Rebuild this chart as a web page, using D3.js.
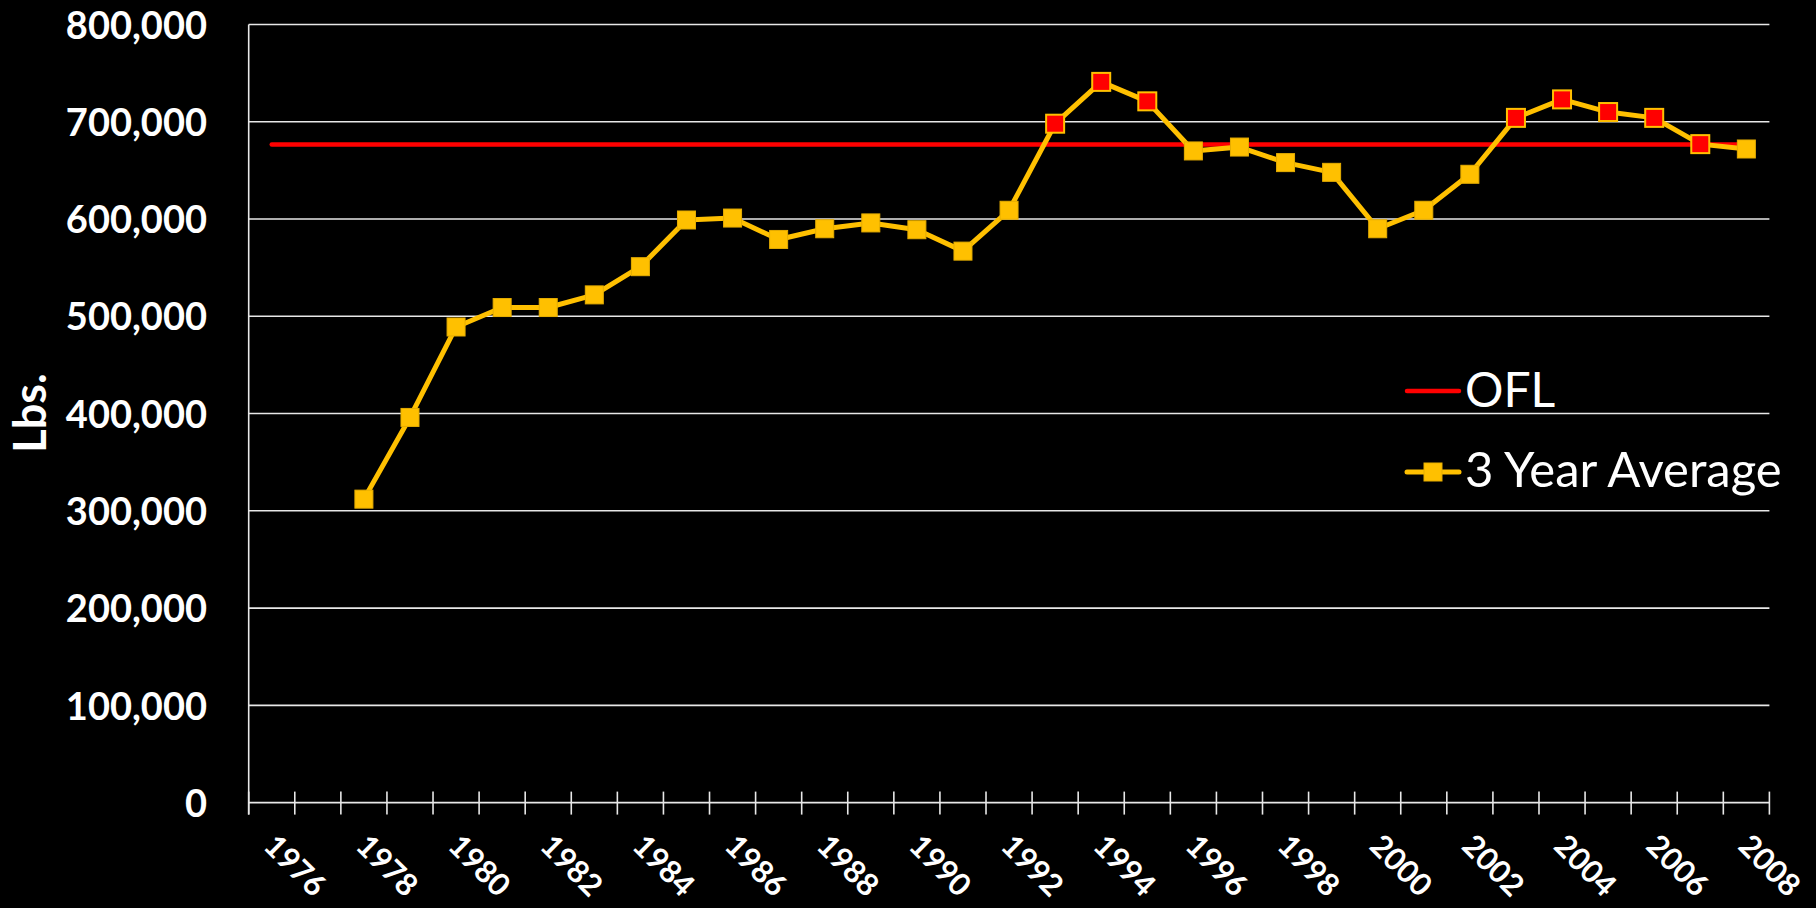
<!DOCTYPE html>
<html lang="en">
  <head>
    <meta charset="utf-8">
    <title>OFL vs 3 Year Average</title>
    <script type="text/javascript" src="https://cdn.jsdelivr.net/npm/d3@7"></script>
    <style>
      body {
        margin: 0;
        background: #000;
      }
      svg {
        display: block;
        font-family: Lato, sans-serif;
      }
    </style>
  </head>
  <body>
    <script type="text/javascript">

      // categories on the x axis
      var years = [1976, 1977, 1978, 1979, 1980, 1981, 1982, 1983, 1984, 1985, 1986,
                   1987, 1988, 1989, 1990, 1991, 1992, 1993, 1994, 1995, 1996, 1997,
                   1998, 1999, 2000, 2001, 2002, 2003, 2004, 2005, 2006, 2007, 2008];

      // labelled years (every other one)
      var labelYears = [1976, 1978, 1980, 1982, 1984, 1986, 1988, 1990, 1992,
                        1994, 1996, 1998, 2000, 2002, 2004, 2006, 2008];

      // 3 year average series (starts in 1978)
      var avgYears = [1978, 1979, 1980, 1981, 1982, 1983, 1984, 1985, 1986, 1987,
                      1988, 1989, 1990, 1991, 1992, 1993, 1994, 1995, 1996, 1997,
                      1998, 1999, 2000, 2001, 2002, 2003, 2004, 2005, 2006, 2007, 2008];
      var avgValues = [312000, 396000, 489000, 509000, 509000, 522000, 551000, 599000,
                       601000, 579000, 590000, 596000, 589000, 567000, 609000, 698000,
                       741000, 721000, 670000, 674000, 658000, 648000, 590000, 609000,
                       646000, 704000, 723000, 710000, 704000, 677000, 672000];

      // overfishing limit, flat over the whole period
      var oflValue = 676500;

      var yTicks = [0, 100000, 200000, 300000, 400000, 500000, 600000, 700000, 800000];

      var w = 1816, h = 908;
      var plot = {left: 248.7, right: 1769.4, top: 24.5, bottom: 802.6};

      var svg = d3.select("body")
            .append("svg")
            .attr("width", w)
            .attr("height", h);

      svg.append("rect")
        .attr("width", w)
        .attr("height", h)
        .attr("fill", "#000");

      var xScale = d3.scaleBand()
                 .domain(years)
                 .range([plot.left, plot.right])
                 .paddingInner(0)
                 .paddingOuter(0);

      var xCenter = function(yr) { return xScale(yr) + xScale.bandwidth() / 2; };

      var yScale = d3.scaleLinear()
                 .domain([0, 800000])
                 .range([plot.bottom, plot.top]);

      //Gridlines
      svg.append("g")
        .selectAll("line")
        .data(yTicks.filter(function(d) { return d > 0; }))
        .enter()
        .append("line")
        .attr("x1", plot.left)
        .attr("x2", plot.right)
        .attr("y1", function(d) { return yScale(d); })
        .attr("y2", function(d) { return yScale(d); })
        .attr("stroke", "#e8e8e8")
        .attr("stroke-width", 1.6);

      //Y axis labels
      var yAxis = d3.axisLeft(yScale)
                  .tickValues(yTicks)
                  .tickSize(0)
                  .tickPadding(0)
                  .tickFormat(d3.format(","));

      var yG = svg.append("g")
        .attr("transform", "translate(207,0)")
        .call(yAxis);
      yG.select(".domain").remove();
      yG.selectAll("text")
        .attr("fill", "#fff")
        .attr("font-family", "Lato, sans-serif")
        .attr("font-weight", "bold")
        .attr("font-size", "38px")
        .attr("dy", "0.36em");

      //Left axis line
      svg.append("line")
        .attr("x1", plot.left)
        .attr("x2", plot.left)
        .attr("y1", plot.top)
        .attr("y2", plot.bottom + 12)
        .attr("stroke", "#e8e8e8")
        .attr("stroke-width", 1.6);

      //Bottom axis line and category ticks
      svg.append("line")
        .attr("x1", plot.left)
        .attr("x2", plot.right)
        .attr("y1", plot.bottom)
        .attr("y2", plot.bottom)
        .attr("stroke", "#e8e8e8")
        .attr("stroke-width", 1.6);

      var boundaries = years.map(function(d) { return xScale(d); }).concat([plot.right]);
      svg.append("g")
        .selectAll("line")
        .data(boundaries)
        .enter()
        .append("line")
        .attr("x1", function(d) { return d; })
        .attr("x2", function(d) { return d; })
        .attr("y1", plot.bottom - 11)
        .attr("y2", plot.bottom + 12)
        .attr("stroke", "#e8e8e8")
        .attr("stroke-width", 1.6);

      //X labels, rotated
      svg.append("g")
        .selectAll("text")
        .data(labelYears)
        .enter()
        .append("text")
        .attr("transform", function(d) {
          return "translate(" + (xCenter(d) - 2) + "," + 840 + ") rotate(45)";
        })
        .attr("dy", "0.35em")
        .attr("text-anchor", "start")
        .attr("fill", "#fff")
        .attr("font-weight", "bold")
        .attr("font-size", "31px")
        .text(function(d) { return d; });

      //OFL line
      svg.append("line")
        .attr("x1", xCenter(years[0]))
        .attr("x2", xCenter(years[years.length - 1]))
        .attr("y1", yScale(oflValue))
        .attr("y2", yScale(oflValue))
        .attr("stroke", "#ff0000")
        .attr("stroke-width", 4.5)
        .attr("stroke-linecap", "round");

      //3 year average line
      var avgData = avgYears.map(function(yr, i) { return [yr, avgValues[i]]; });

      var line = d3.line()
                 .x(function(d) { return xCenter(d[0]); })
                 .y(function(d) { return yScale(d[1]); });

      svg.append("path")
        .datum(avgData)
        .attr("d", line)
        .attr("fill", "none")
        .attr("stroke", "#ffc000")
        .attr("stroke-width", 5)
        .attr("stroke-linejoin", "round")
        .attr("stroke-linecap", "round");

      //Markers, red when above the OFL
      var ms = 18;
      svg.append("g")
        .selectAll("rect")
        .data(avgData)
        .enter()
        .append("rect")
        .attr("x", function(d) { return xCenter(d[0]) - ms / 2; })
        .attr("y", function(d) { return yScale(d[1]) - ms / 2; })
        .attr("width", ms)
        .attr("height", ms)
        .attr("fill", function(d) { return d[1] > oflValue ? "#ff0000" : "#ffc000"; })
        .attr("stroke", function(d) { return d[1] > oflValue ? "#ffc000" : "#e6ad00"; })
        .attr("stroke-width", function(d) { return d[1] > oflValue ? 2 : 1; });

      //Lbs. title
      svg.append("text")
        .attr("transform", "translate(30,413) rotate(-90)")
        .attr("text-anchor", "middle")
        .attr("dy", "0.36em")
        .attr("fill", "#fff")
        .attr("font-weight", "bold")
        .attr("font-size", "45px")
        .text("Lbs.");

      //Legend
      var legend = svg.append("g");

      legend.append("line")
        .attr("x1", 1407).attr("x2", 1459)
        .attr("y1", 391).attr("y2", 391)
        .attr("stroke", "#ff0000")
        .attr("stroke-width", 4.5)
        .attr("stroke-linecap", "round");
      legend.append("text")
        .attr("x", 1465)
        .attr("y", 407)
        .attr("fill", "#fff")
        .attr("font-size", "48px")
        .text("OFL");

      legend.append("line")
        .attr("x1", 1407).attr("x2", 1459)
        .attr("y1", 472).attr("y2", 472)
        .attr("stroke", "#ffc000")
        .attr("stroke-width", 5)
        .attr("stroke-linecap", "round");
      legend.append("rect")
        .attr("x", 1433 - ms / 2)
        .attr("y", 472 - ms / 2)
        .attr("width", ms)
        .attr("height", ms)
        .attr("fill", "#ffc000")
        .attr("stroke", "#e6ad00")
        .attr("stroke-width", 1);
      legend.append("text")
        .attr("x", 1465)
        .attr("y", 487)
        .attr("fill", "#fff")
        .attr("font-size", "49px")
        .text("3 Year Average");

    </script>
  </body>
</html>
